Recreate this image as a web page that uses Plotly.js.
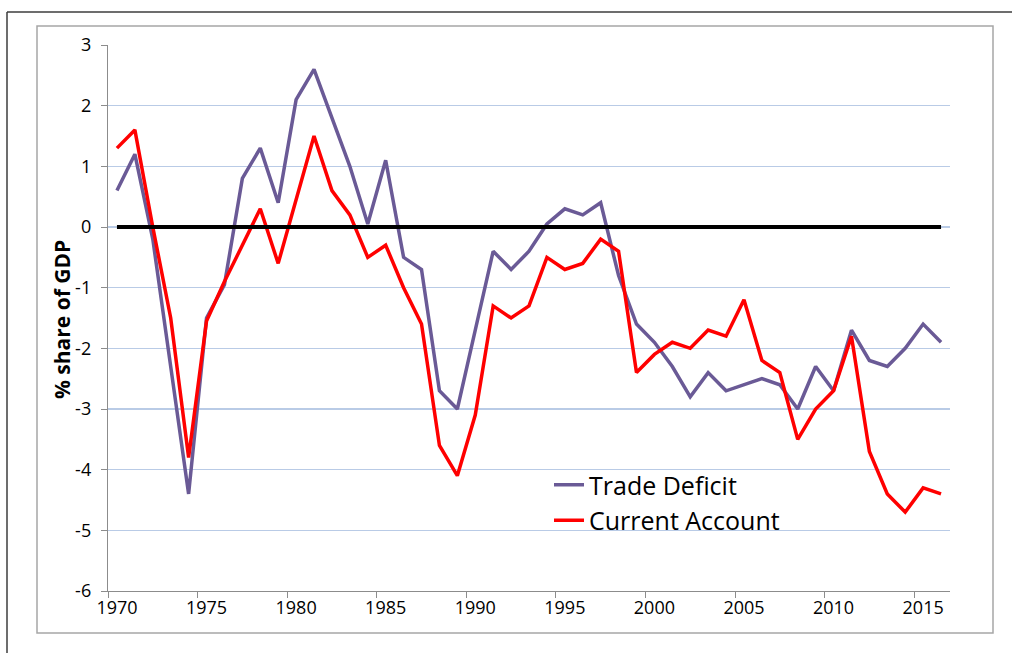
<!DOCTYPE html>
<html>
<head>
<meta charset="utf-8">
<script src="https://cdn.plot.ly/plotly-3.0.1.min.js"></script>
<style>
  html, body { margin: 0; padding: 0; background: #ffffff; }
  #chart { width: 1012px; height: 653px; }
</style>
</head>
<body>
<div id="chart"></div>
<script>
const years = ["1970","1971","1972","1973","1974","1975","1976","1977","1978","1979",
               "1980","1981","1982","1983","1984","1985","1986","1987","1988","1989",
               "1990","1991","1992","1993","1994","1995","1996","1997","1998","1999",
               "2000","2001","2002","2003","2004","2005","2006","2007","2008","2009",
               "2010","2011","2012","2013","2014","2015","2016"];

const tradeDeficit = [0.6, 1.2, -0.2, -2.3, -4.4, -1.5, -0.95, 0.8, 1.3, 0.4,
                      2.1, 2.6, 1.8, 1.0, 0.05, 1.1, -0.5, -0.7, -2.7, -3.0,
                      -1.7, -0.4, -0.7, -0.4, 0.05, 0.3, 0.2, 0.4, -0.8, -1.6,
                      -1.9, -2.3, -2.8, -2.4, -2.7, -2.6, -2.5, -2.6, -3.0, -2.3,
                      -2.7, -1.7, -2.2, -2.3, -2.0, -1.6, -1.9];

const currentAccount = [1.3, 1.6, 0.0, -1.5, -3.8, -1.55, -0.9, -0.3, 0.3, -0.6,
                        0.45, 1.5, 0.6, 0.2, -0.5, -0.3, -1.0, -1.6, -3.6, -4.1,
                        -3.1, -1.3, -1.5, -1.3, -0.5, -0.7, -0.6, -0.2, -0.4, -2.4,
                        -2.1, -1.9, -2.0, -1.7, -1.8, -1.2, -2.2, -2.4, -3.5, -3.0,
                        -2.7, -1.8, -3.7, -4.4, -4.7, -4.3, -4.4];

const zeroLine = [0,0,0,0,0,0,0,0,0,0, 0,0,0,0,0,0,0,0,0,0, 0,0,0,0,0,0,0,0,0,0,
                  0,0,0,0,0,0,0,0,0,0, 0,0,0,0,0,0,0];

const yTicks = [3, 2, 1, 0, -1, -2, -3, -4, -5, -6];
const yTickLabels = ["3", "2", "1", "0", "-1", "-2", "-3", "-4", "-5", "-6"];

const FONT = "'Open Sans', 'Noto Sans', sans-serif";

const traces = [
  { x: years, y: tradeDeficit, name: "Trade Deficit", type: "scatter", mode: "lines",
    line: { color: "#6a5a96", width: 3.5 } },
  { x: years, y: currentAccount, name: "Current Account", type: "scatter", mode: "lines",
    line: { color: "#ff0000", width: 3.5 } },
  { x: years, y: zeroLine, name: "Zero", type: "scatter", mode: "lines", showlegend: false,
    hoverinfo: "skip", line: { color: "#000000", width: 4 } }
];

const L = 108, R = 950, T = 45, B = 591, W = 1012, H = 653;
const px = v => (v - L) / (R - L);
const py = v => (B - v) / (B - T);

const layout = {
  width: W, height: H,
  margin: { l: L, r: W - R, t: T, b: H - B },
  paper_bgcolor: "#ffffff",
  plot_bgcolor: "#ffffff",
  font: { family: FONT, size: 16, color: "#000000" },
  showlegend: true,
  legend: {
    x: px(549), y: py(462), xanchor: "left", yanchor: "top",
    bgcolor: "rgba(0,0,0,0)", borderwidth: 0,
    font: { family: FONT, size: 25, color: "#000000" },
    tracegroupgap: 0
  },
  xaxis: {
    type: "category",
    range: [-0.5, 46.5],
    tick0: 0, dtick: 5,
    tickangle: 0,
    tickson: "boundaries",
    ticks: "outside", ticklen: 6, tickcolor: "#8c8c8c", tickwidth: 1,
    showgrid: false, zeroline: false,
    showline: true, linecolor: "#8c8c8c", linewidth: 1.2,
    tickfont: { family: FONT, size: 18, color: "#000000" },
    fixedrange: true
  },
  yaxis: {
    range: [-6, 3],
    tickvals: yTicks,
    ticktext: yTickLabels,
    ticks: "outside", ticklen: 6, tickcolor: "#8c8c8c", tickwidth: 1,
    showgrid: true, gridcolor: "#b9cbe6", gridwidth: 1.3,
    zeroline: false,
    showline: true, linecolor: "#8c8c8c", linewidth: 1.2,
    tickfont: { family: FONT, size: 18, color: "#000000" },
    ticklabelstandoff: 6,
    fixedrange: true
  },
  annotations: [
    { text: "<b>% share of GDP</b>", xref: "paper", yref: "paper",
      x: px(62), y: py(320), xanchor: "center", yanchor: "middle",
      textangle: -90, showarrow: false,
      font: { family: FONT, size: 21, color: "#000000" } }
  ],
  shapes: [
    { type: "line", xref: "paper", yref: "paper", x0: px(7), x1: px(1012), y0: py(12), y1: py(12),
      line: { color: "#3c3c3c", width: 1.5 } },
    { type: "line", xref: "paper", yref: "paper", x0: px(7), x1: px(7), y0: py(12), y1: py(653),
      line: { color: "#3c3c3c", width: 1.5 } },
    { type: "rect", xref: "paper", yref: "paper", x0: px(37), x1: px(993), y0: py(633), y1: py(26),
      line: { color: "#a6a6a6", width: 1.5 }, fillcolor: "rgba(0,0,0,0)", layer: "below" }
  ]
};

Plotly.newPlot("chart", traces, layout, { displayModeBar: false, staticPlot: true });
</script>
</body>
</html>
